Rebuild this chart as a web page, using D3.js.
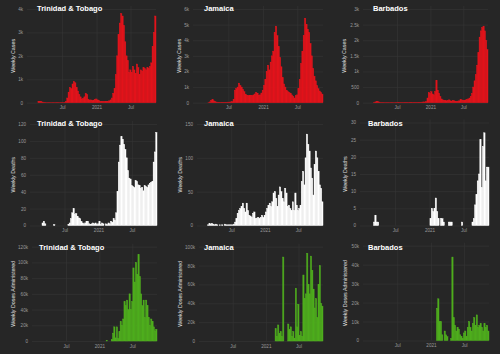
<!DOCTYPE html>
<html><head><meta charset="utf-8">
<script src="https://cdn.jsdelivr.net/npm/d3@7"></script>
<style>
html,body{margin:0;padding:0;background:#262626;}
svg{display:block;}
text{font-family:"Liberation Sans",Arial,Helvetica,sans-serif;}
</style></head><body>
<svg id="c" width="500" height="354"></svg>
<script>
// ---------- data ----------
const weekStart = "2020-01-26";          // first weekly bar
const countries = ["Trinidad & Tobago", "Jamaica", "Barbados"];
const metrics = ["Weekly Cases", "Weekly Deaths", "Weekly Doses Administered"];
const xTickDates = ["2020-07-01", "2021-01-01", "2021-07-01"];
const xTickLabels = ["Jul", "2021", "Jul"];
const xDomain = ["2019-12-27", "2021-11-14"];

const ttCases = [0,0,0,0,40,60,50,30,20,10,
  5,5,3,3,2,2,3,5,5,5,
  5,5,8,10,15,60,200,450,650,600,
  800,900,850,650,500,350,250,160,180,250,
  400,350,150,110,120,100,110,140,160,120,
  90,60,40,40,45,50,55,60,80,120,
  200,400,600,1200,2000,2900,3400,3800,3700,3300,
  2600,2000,1800,1300,1400,1300,1550,1400,1250,1650,
  1500,1200,1400,1350,1500,1450,1400,1500,1450,1550,
  1700,2400,3000,3700];
const jmCases = [0,0,0,0,0,0,0,10,50,150,
  200,120,60,40,30,30,25,30,30,30,
  30,30,35,40,50,60,200,800,900,1000,
  1250,1100,1000,850,700,550,480,450,460,480,
  450,500,560,650,600,480,500,620,800,1100,
  1500,2000,2400,2100,2600,3000,3300,4500,4900,4300,
  3600,2900,2300,1600,1200,1000,800,700,650,600,
  500,400,300,450,500,900,1500,2500,3300,4300,
  5400,5000,4700,4500,3800,3000,2200,1700,1400,1100,
  900,750,650,550];
const bbCases = [0,0,0,0,10,25,35,30,20,10,
  5,5,3,3,2,2,3,5,3,2,
  3,5,5,15,10,5,5,8,10,8,
  10,8,12,15,10,12,10,8,12,15,
  12,15,20,25,20,30,150,330,300,350,
  280,250,350,720,400,300,200,120,90,70,
  80,60,70,90,60,50,70,60,40,30,
  50,60,100,90,80,70,90,100,120,150,
  200,300,500,700,900,1200,1600,2100,2300,2400,
  2450,2300,2000,1700];

const ttDeaths = [0,0,0,0,0,3,5,2,0,0,
  0,0,0,0,1,0,0,0,0,0,
  0,0,0,0,0,1,3,8,15,20,
  13,14,11,9,8,5,3,2,3,5,
  5,2,1,2,3,2,3,1,2,5,
  1,3,2,0,2,1,3,2,5,4,
  8,6,15,40,75,95,105,102,96,90,
  80,65,56,55,47,46,45,53,52,48,
  47,44,45,41,47,46,45,48,50,51,
  52,75,87,110];
const jmDeaths = [0,0,0,0,1,3,2,3,2,1,
  2,1,0,1,0,1,0,2,1,1,
  1,1,1,1,2,5,10,18,22,25,
  28,33,25,20,33,22,15,14,12,18,
  20,10,11,12,10,12,15,12,15,20,
  25,30,33,28,35,48,50,40,28,45,
  57,50,40,35,55,48,28,30,25,22,
  35,22,48,30,22,25,30,65,80,60,
  100,135,120,110,85,70,45,90,110,100,
  80,60,55,35];
const bbDeaths = [0,0,0,0,0,0,1,3,1,1,
  0,0,0,0,0,0,0,0,0,0,
  0,0,0,0,0,0,0,0,0,0,
  0,0,0,0,0,0,0,0,0,0,
  0,0,0,0,0,0,0,0,0,2,
  5,4,5,8,4,2,0,2,2,1,
  0,0,0,1,1,1,0,0,0,0,
  0,0,0,1,0,0,0,0,0,0,
  0,1,2,6,9,13,15,25,11,23,
  27,13,17,17];

const ttDoses = [0,0,0,0,0,0,0,0,0,0,
  0,0,0,0,0,0,0,0,0,0,
  0,0,0,0,0,0,0,0,0,0,
  0,0,0,0,0,0,0,0,0,0,
  0,0,0,0,0,0,0,0,0,0,
  0,0,0,0,1000,0,0,0,2000,10000,
  18000,4000,18000,3000,12000,25000,20000,28000,50000,45000,
  52000,40000,60000,40000,50000,93000,75000,100000,85000,110000,
  82000,60000,45000,52000,30000,52000,45000,30000,20000,28000,
  25000,18000,13000,15000];
const jmDoses = [0,0,0,0,0,0,0,0,0,0,
  0,0,0,0,0,0,0,0,0,0,
  0,0,0,0,0,0,0,0,0,0,
  0,0,0,0,0,0,0,0,0,0,
  0,0,0,0,0,0,0,0,0,0,
  0,0,0,0,0,0,13000,5000,17000,8000,
  10000,5000,89000,0,0,0,18000,12000,15000,5000,
  10000,3000,56000,15000,39000,6000,10000,5000,70000,45000,
  50000,93000,60000,50000,90000,75000,55000,35000,45000,25000,
  60000,80000,40000,37000];
const bbDoses = [0,0,0,0,0,0,0,0,0,0,
  0,0,0,0,0,0,0,0,0,0,
  0,0,0,0,0,0,0,0,0,0,
  0,0,0,0,0,0,0,0,0,0,
  0,0,0,0,0,0,0,0,0,0,
  0,0,0,17000,22000,10000,10000,3000,0,5000,
  3000,2000,0,0,1000,44000,12000,8000,5000,7000,
  6000,3000,2000,1000,4000,5000,2000,7000,10000,7000,
  5000,9000,12000,8000,13500,7000,8000,9000,7000,5000,
  9000,7000,8000,5000];

const ttCasesTicks = [0,1000,2000,3000,4000];
const jmCasesTicks = [0,1000,2000,3000,4000,5000,6000];
const bbCasesTicks = [0,500,1000,1500,2000,2500,3000];
const ttDeathsTicks = [0,20,40,60,80,100,120];
const jmDeathsTicks = [0,50,100,150];
const bbDeathsTicks = [0,5,10,15,20,25,30];
const ttDosesTicks = [0,20000,40000,60000,80000,100000,120000];
const jmDosesTicks = [0,20000,40000,60000,80000,100000];
const bbDosesTicks = [0,10000,20000,30000,40000,50000];

// ---------- layout / style ----------
const colors = ["#e3141c", "#ffffff", "#4fae1e"];
const panels = [
  // row 0 : cases
  {v: ttCases, t: ttCasesTicks, r:0, c:0, L:27,  R:156, T:9,     B:102.7, tx:37,  ty:11,  ax:14.5},
  {v: jmCases, t: jmCasesTicks, r:0, c:1, L:193, R:323, T:9,     B:102.7, tx:204, ty:11,  ax:181},
  {v: bbCases, t: bbCasesTicks, r:0, c:2, L:363, R:488, T:9,     B:102.7, tx:373, ty:11,  ax:346},
  // row 1 : deaths
  {v: ttDeaths, t: ttDeathsTicks, r:1, c:0, L:30,  R:157, T:124,   B:225.5, tx:37,  ty:126, ax:14.5},
  {v: jmDeaths, t: jmDeathsTicks, r:1, c:1, L:197, R:323, T:124,   B:225.5, tx:204, ty:126, ax:182},
  {v: bbDeaths, t: bbDeathsTicks, r:1, c:2, L:360, R:489, T:122.5, B:225.5, tx:368, ty:126, ax:347},
  // row 2 : doses
  {v: ttDoses, t: ttDosesTicks, r:2, c:0, L:32,  R:157, T:246.7, B:341, tx:39,  ty:250, ax:15},
  {v: jmDoses, t: jmDosesTicks, r:2, c:1, L:199, R:323, T:246.7, B:341, tx:204, ty:250, ax:182},
  {v: bbDoses, t: bbDosesTicks, r:2, c:2, L:363, R:489, T:245.7, B:340.5, tx:368, ty:250, ax:347}
];

const parse = d3.utcParse("%Y-%m-%d");
const start = parse(weekStart);
const fmt = d => d === 0 ? "0" : (d >= 1000 ? (d / 1000) + "k" : String(d));

const svg = d3.select("#c");
svg.append("rect").attr("width", 500).attr("height", 354).attr("fill", "#262626");

panels.forEach(p => {
  const g = svg.append("g");
  const x = d3.scaleUtc().domain(xDomain.map(parse)).range([p.L, p.R]);
  const y = d3.scaleLinear().domain([0, d3.max(p.t)]).range([p.B, p.T]);

  // y axis + horizontal grid
  const ya = g.append("g").attr("transform", `translate(${p.L},0)`)
    .call(d3.axisLeft(y).tickValues(p.t).tickFormat(fmt).tickSize(-(p.R - p.L)).tickPadding(4));
  ya.select(".domain").remove();
  ya.selectAll("line").attr("stroke", "#363636").attr("stroke-width", 0.6);
  ya.selectAll("text").attr("fill", "#9a9a9a").attr("font-size", 4.6);

  // x axis + vertical grid
  const xa = g.append("g").attr("transform", `translate(0,${p.B})`)
    .call(d3.axisBottom(x).tickValues(xTickDates.map(parse))
      .tickFormat((d, i) => xTickLabels[i]).tickSize(-(p.B - p.T + 3)).tickPadding(3.5));
  xa.select(".domain").remove();
  xa.selectAll("line").attr("stroke", "#363636").attr("stroke-width", 0.6);
  xa.selectAll("text").attr("fill", "#9a9a9a").attr("font-size", 4.6);

  // bars
  const col = colors[p.r];
  g.append("g").selectAll("rect").data(p.v).join("rect")
    .attr("x", (d, i) => x(d3.utcDay.offset(start, 7 * i)))
    .attr("width", (d, i) => x(d3.utcDay.offset(start, 7 * i + 7)) - x(d3.utcDay.offset(start, 7 * i)))
    .attr("y", d => y(d))
    .attr("height", d => y(0) - y(d))
    .attr("fill", col)
    .attr("stroke", col)
    .attr("stroke-width", 0.45);

  // axis title
  g.append("text")
    .attr("transform", `translate(${p.ax},${(p.T + p.B) / 2}) rotate(-90)`)
    .attr("text-anchor", "middle")
    .attr("fill", "#e0e0e0")
    .attr("font-size", 5.3)
    .text(metrics[p.r]);

  // panel title
  g.append("text")
    .attr("x", p.tx).attr("y", p.ty)
    .attr("fill", "#ffffff")
    .attr("font-size", 7.5)
    .attr("font-weight", "bold")
    .text(countries[p.c]);
});
</script>
</body></html>
